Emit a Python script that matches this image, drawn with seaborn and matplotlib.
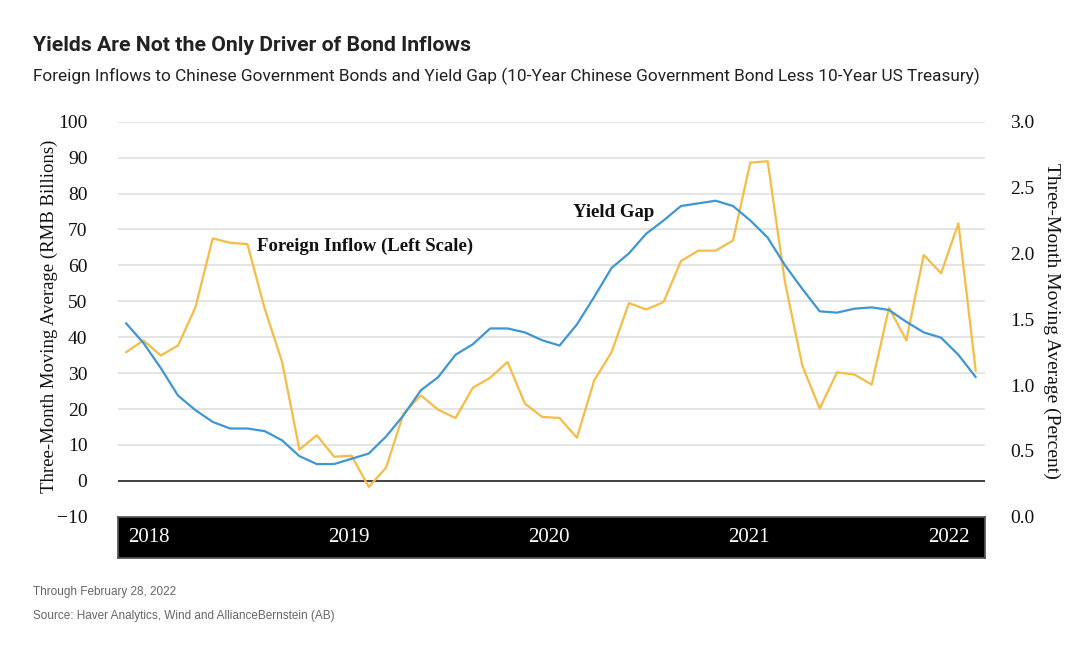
import numpy as np
import pandas as pd
import matplotlib
matplotlib.use('Agg')
import matplotlib.pyplot as plt
import seaborn as sns

# monthly, Jan 2018 .. Feb 2022
months = pd.date_range('2018-01-01', periods=50, freq='MS')

# foreign inflow, three-month moving average, RMB billions (left scale)
inflow = [35.8, 39.1, 34.9, 37.7, 48.3, 67.5, 66.3, 65.9, 47.9, 33.1,
          8.7, 12.7, 6.7, 7.0, -1.7, 3.7, 18.7, 23.8, 19.8, 17.5,
          25.9, 28.7, 33.1, 21.5, 17.8, 17.5, 12.0, 28.0, 35.8, 49.5,
          47.7, 49.8, 61.2, 64.1, 64.1, 66.9, 88.6, 89.0, 55.3, 32.1,
          20.1, 30.2, 29.6, 26.8, 48.2, 39.1, 62.9, 57.8, 71.7, 30.6]

# yield gap, CGB 10y less UST 10y, percent (right scale)
yield_gap = [1.47, 1.32, 1.13, 0.92, 0.81, 0.72, 0.67, 0.67, 0.65, 0.58,
             0.46, 0.40, 0.40, 0.44, 0.48, 0.61, 0.77, 0.96, 1.06, 1.23,
             1.31, 1.43, 1.43, 1.40, 1.34, 1.30, 1.46, 1.67, 1.89, 2.00,
             2.15, 2.25, 2.36, 2.38, 2.40, 2.36, 2.25, 2.12, 1.91, 1.73,
             1.56, 1.55, 1.58, 1.59, 1.57, 1.48, 1.40, 1.36, 1.23, 1.06]

year_labels = ['2018', '2019', '2020', '2021', '2022']
left_ticks = [-10, 0, 10, 20, 30, 40, 50, 60, 70, 80, 90, 100]
right_ticks = [0.0, 0.5, 1.0, 1.5, 2.0, 2.5, 3.0]

ORANGE = '#F6BC45'
BLUE = '#3E96D3'
SERIF = 'Liberation Serif'
SANS = 'Roboto'

df = pd.DataFrame({'month': months, 'inflow': inflow, 'yield_gap': yield_gap})
df['idx'] = np.arange(len(df))

sns.set_theme(style='white')
plt.rcParams['font.family'] = ['DejaVu Sans']

fig = plt.figure(figsize=(10.92, 6.58), dpi=100)
ax = fig.add_axes([0.1081, 0.2147, 0.7940, 0.6003])
ax2 = ax.twinx()

# light grid on left scale, dark zero line
for v in left_ticks:
    if v == -10:
        continue
    if v == 0:
        ax.axhline(0, color='#333333', lw=1.3, zorder=1)
    else:
        ax.axhline(v, color='#e2e2e2', lw=1.3, zorder=0)

sns.lineplot(data=df, x='idx', y='inflow', ax=ax, color=ORANGE, lw=1.6, zorder=3)
sns.lineplot(data=df, x='idx', y='yield_gap', ax=ax2, color=BLUE, lw=1.6, zorder=3)

ax.set_xlim(-0.46, len(df) - 1 + 0.54)
ax.set_ylim(-10, 100)
ax2.set_ylim(0, 3.0)

ax.set_yticks(left_ticks)
ax.set_yticklabels([f'{t:d}'.replace('-', '\u2212') for t in left_ticks],
                   fontfamily=SERIF, fontsize=14)
ax2.set_yticks(right_ticks)
ax2.set_yticklabels([f'{t:.1f}' for t in right_ticks], fontfamily=SERIF, fontsize=14)
ax.tick_params(axis='y', length=0, pad=22, colors='#111111')
ax2.tick_params(axis='y', length=0, pad=18, colors='#111111')
ax.set_xticks([])
ax.set_xlabel('')
ax.set_ylabel('')
ax2.set_ylabel('')
for a in (ax, ax2):
    for s in a.spines.values():
        s.set_visible(False)
    a.patch.set_visible(False)

# series labels
ax.text(7.56, 65.2, 'Foreign Inflow (Left Scale)', fontfamily=SERIF, fontweight='bold',
        fontsize=13.5, ha='left', va='center', color='#111111')
ax.text(25.8, 74.6, 'Yield Gap', fontfamily=SERIF, fontweight='bold',
        fontsize=13.5, ha='left', va='center', color='#111111')

# black year band under the plot
band = fig.add_axes([0.1081, 0.152, 0.7940, 0.0623])
band.set_facecolor('black')
band.set_xticks([])
band.set_yticks([])
for s in band.spines.values():
    s.set_color('#555555')
for i, lab in enumerate(year_labels):
    band.text(0.0115 + 0.2307 * i, 0.5, lab, transform=band.transAxes, color='white',
              fontfamily=SERIF, fontsize=15, ha='left', va='center')

# axis titles
fig.text(0.045, 0.52, 'Three-Month Moving Average (RMB Billions)', rotation=90,
         fontfamily=SERIF, fontsize=13.5, ha='center', va='center', color='#111111')
fig.text(0.963, 0.512, 'Three-Month Moving Average (Percent)', rotation=270,
         fontfamily=SERIF, fontsize=14, ha='center', va='center', color='#111111')

# headings
fig.text(0.030, 0.9316, 'Yields Are Not the Only Driver of Bond Inflows',
         fontfamily=SANS, fontweight='bold', fontsize=15.3, ha='left', va='center', color='#222222')
fig.text(0.030, 0.8845, 'Foreign Inflows to Chinese Government Bonds and Yield Gap '
         '(10-Year Chinese Government Bond Less 10-Year US Treasury)',
         fontfamily=SANS, fontsize=12.4, ha='left', va='center', color='#222222')

# footer
fig.text(0.030, 0.1003, 'Through February 28, 2022', fontfamily='Liberation Sans',
         fontsize=8.5, ha='left', va='center', color='#666666')
fig.text(0.030, 0.0638, 'Source: Haver Analytics, Wind and AllianceBernstein (AB)',
         fontfamily='Liberation Sans', fontsize=8.5, ha='left', va='center', color='#666666')

fig.savefig('out.png', dpi=100, facecolor='white')
